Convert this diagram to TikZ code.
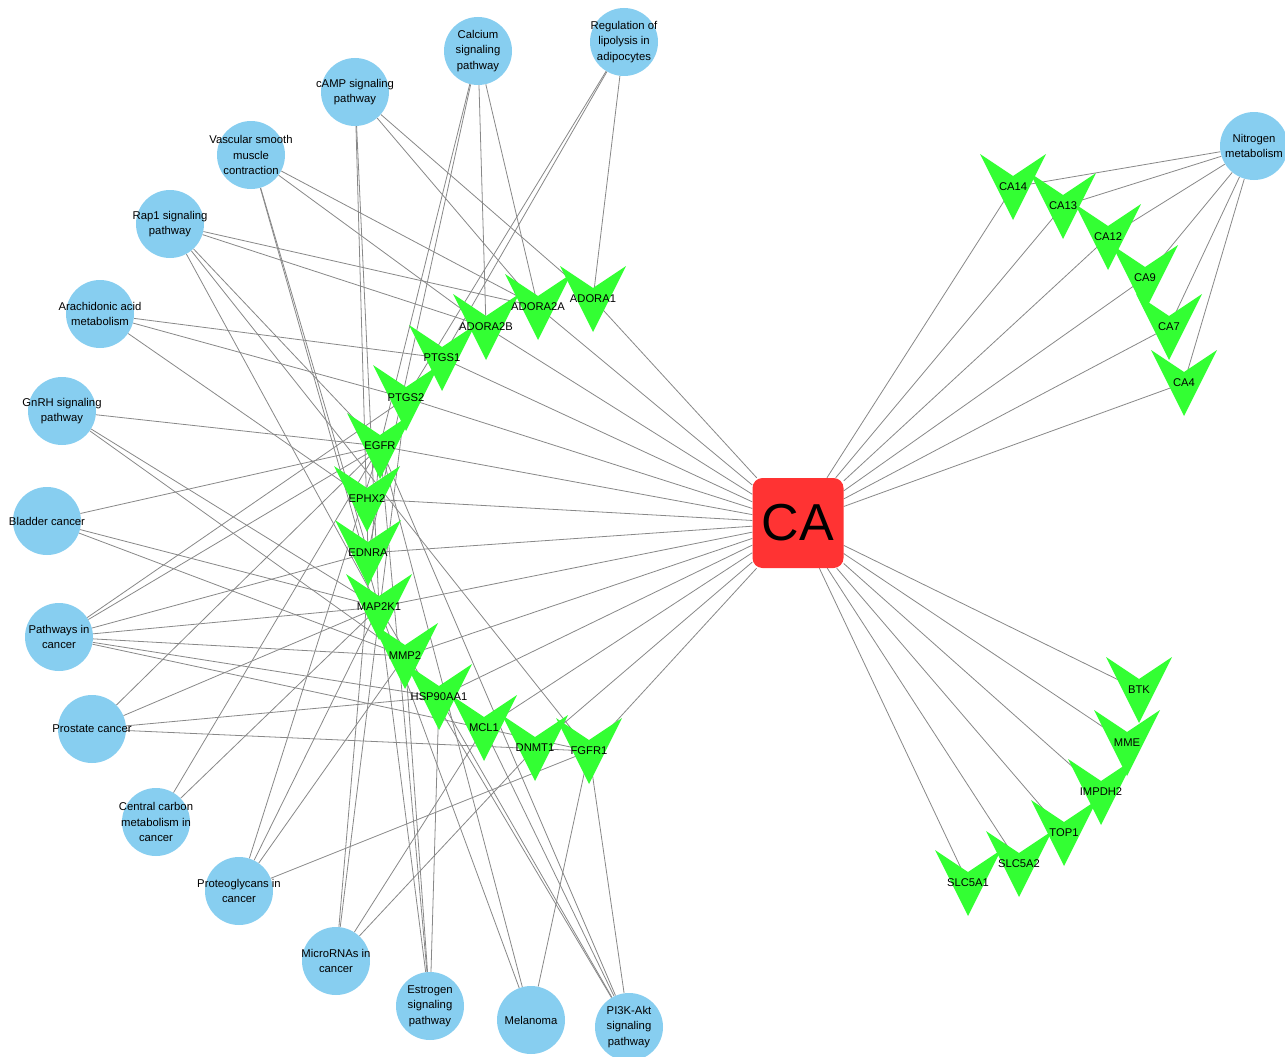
\documentclass[tikz,border=0pt]{standalone}
\usepackage{fontspec}
\setmainfont{Liberation Sans}
\usetikzlibrary{calc}
\pgfdeclarelayer{bg}
\pgfdeclarelayer{fg}
\pgfsetlayers{bg,main,fg}
\definecolor{vgreen}{RGB}{51,255,51}
\definecolor{pblue}{RGB}{135,206,240}
\definecolor{cared}{RGB}{255,51,51}
\definecolor{edgegray}{RGB}{136,136,136}
\tikzset{
  pcirc/.style={circle, fill=pblue, minimum size=68pt, inner sep=0pt},
  plabel/.style={align=center, font=\fontsize{11.3}{15.5}\selectfont, inner sep=0pt},
  vlabel/.style={font=\fontsize{11.2}{14}\selectfont, inner sep=0pt},
  link/.style={draw=edgegray, line width=0.8pt},
  cabox/.style={rectangle, rounded corners=10pt, fill=cared, minimum width=91pt, minimum height=90pt, inner sep=0pt, font=\fontsize{52}{60}\selectfont},
}
\newcommand\vtarget[3]{%
  \coordinate (#1) at (#2);
  \fill[vgreen] ($(#1)+(-33,-33)$) -- ($(#1)+(0,-11)$) -- ($(#1)+(33,-33)$) -- ($(#1)+(0,33)$) -- cycle;
  \begin{pgfonlayer}{fg}\node[vlabel] at (#1) {#3};\end{pgfonlayer}
}
\newcommand\pathwaynode[3]{%
  \node[pcirc] (#1) at (#2) {};
  \begin{pgfonlayer}{fg}\node[plabel] at (#1) {#3};\end{pgfonlayer}
}
\begin{document}
\begin{tikzpicture}[x=1pt, y=-1pt]
\useasboundingbox (0,0) rectangle (1285,1057);
\begin{pgfonlayer}{bg}
\fill[white] (0,0) rectangle (1285,1057);
\end{pgfonlayer}

% central compound
\node[cabox] (ca) at (798,523) {CA};

% pathway nodes
\pathwaynode{calcium}{478,51}{Calcium\\signaling\\pathway}
\pathwaynode{lipolysis}{624,42}{Regulation of\\lipolysis in\\adipocytes}
\pathwaynode{camp}{355,92}{cAMP signaling\\pathway}
\pathwaynode{vascular}{251,155}{Vascular smooth\\muscle\\contraction}
\pathwaynode{rap1}{170,224}{Rap1 signaling\\pathway}
\pathwaynode{arach}{100,314}{Arachidonic acid\\metabolism}
\pathwaynode{gnrh}{62,411}{GnRH signaling\\pathway}
\pathwaynode{bladder}{47,521}{Bladder cancer}
\pathwaynode{pic}{59,637}{Pathways in\\cancer}
\pathwaynode{prostate}{92,729}{Prostate cancer}
\pathwaynode{central}{156,822}{Central carbon\\metabolism in\\cancer}
\pathwaynode{proteo}{239,891}{Proteoglycans in\\cancer}
\pathwaynode{mirna}{336,961}{MicroRNAs in\\cancer}
\pathwaynode{estrogen}{430,1006}{Estrogen\\signaling\\pathway}
\pathwaynode{melanoma}{531,1020}{Melanoma}
\pathwaynode{pi3k}{629,1027}{PI3K-Akt\\signaling\\pathway}
\pathwaynode{nitrogen}{1254,146}{Nitrogen\\metabolism}

% target nodes
\vtarget{a1}{593,299}{ADORA1}
\vtarget{a2a}{538,307}{ADORA2A}
\vtarget{a2b}{486,327}{ADORA2B}
\vtarget{ptgs1}{442,358}{PTGS1}
\vtarget{ptgs2}{406,398}{PTGS2}
\vtarget{egfr}{380,446}{EGFR}
\vtarget{ephx2}{367,499}{EPHX2}
\vtarget{ednra}{368,553}{EDNRA}
\vtarget{map2k1}{379,607}{MAP2K1}
\vtarget{mmp2}{405,656}{MMP2}
\vtarget{hsp}{439,697}{HSP90AA1}
\vtarget{mcl1}{484,728}{MCL1}
\vtarget{dnmt1}{535,748}{DNMT1}
\vtarget{fgfr1}{589,751}{FGFR1}
\vtarget{ca14}{1013,187}{CA14}
\vtarget{ca13}{1063,206}{CA13}
\vtarget{ca12}{1108,237}{CA12}
\vtarget{ca9}{1145,278}{CA9}
\vtarget{ca7}{1169,327}{CA7}
\vtarget{ca4}{1184,383}{CA4}
\vtarget{btk}{1139,690}{BTK}
\vtarget{mme}{1127,743}{MME}
\vtarget{impdh2}{1101,792}{IMPDH2}
\vtarget{top1}{1064,833}{TOP1}
\vtarget{slc5a2}{1019,864}{SLC5A2}
\vtarget{slc5a1}{968,883}{SLC5A1}

% connectors
\begin{pgfonlayer}{bg}
\foreach \t in {a1,a2a,a2b,ptgs1,ptgs2,egfr,ephx2,ednra,map2k1,mmp2,hsp,mcl1,dnmt1,fgfr1,ca14,ca13,ca12,ca9,ca7,ca4,btk,mme,impdh2,top1,slc5a2,slc5a1}
  \draw[link] (ca) -- (\t);
\foreach \t in {a2a,a2b,egfr,ednra} \draw[link] (calcium) -- (\t);
\foreach \t in {a1,ptgs1,ptgs2} \draw[link] (lipolysis) -- (\t);
\foreach \t in {a1,a2a,ednra,map2k1} \draw[link] (camp) -- (\t);
\foreach \t in {a2a,a2b,ednra,map2k1} \draw[link] (vascular) -- (\t);
\foreach \t in {a2a,a2b,egfr,map2k1,fgfr1} \draw[link] (rap1) -- (\t);
\foreach \t in {ptgs1,ptgs2,ephx2} \draw[link] (arach) -- (\t);
\foreach \t in {egfr,map2k1,mmp2} \draw[link] (gnrh) -- (\t);
\foreach \t in {egfr,map2k1,mmp2} \draw[link] (bladder) -- (\t);
\foreach \t in {ptgs2,egfr,ednra,map2k1,mmp2,hsp,fgfr1} \draw[link] (pic) -- (\t);
\foreach \t in {egfr,map2k1,hsp,fgfr1} \draw[link] (prostate) -- (\t);
\foreach \t in {egfr,map2k1} \draw[link] (central) -- (\t);
\foreach \t in {egfr,map2k1,mmp2,fgfr1} \draw[link] (proteo) -- (\t);
\foreach \t in {egfr,ptgs2,mcl1,dnmt1} \draw[link] (mirna) -- (\t);
\foreach \t in {egfr,map2k1,mmp2,hsp} \draw[link] (estrogen) -- (\t);
\foreach \t in {egfr,map2k1,fgfr1} \draw[link] (melanoma) -- (\t);
\foreach \t in {egfr,map2k1,hsp,mcl1,fgfr1} \draw[link] (pi3k) -- (\t);
\foreach \t in {ca14,ca13,ca12,ca9,ca7,ca4} \draw[link] (nitrogen) -- (\t);
\end{pgfonlayer}
\end{tikzpicture}
\end{document}
